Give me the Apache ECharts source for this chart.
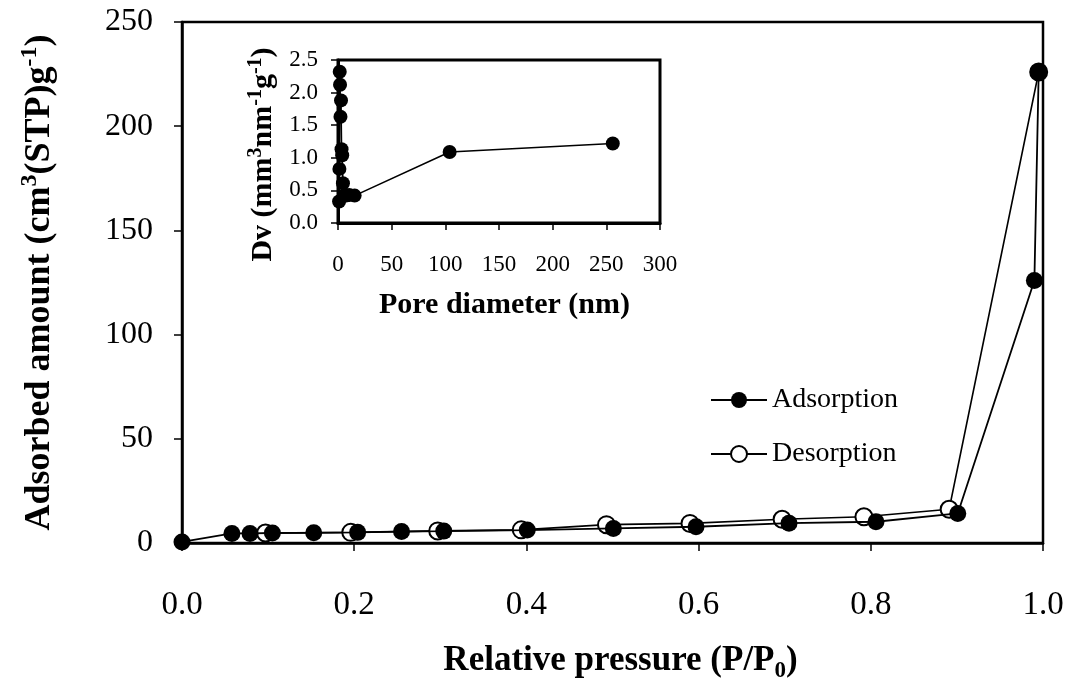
<!DOCTYPE html>
<html>
<head>
<meta charset="utf-8">
<script src="https://cdn.jsdelivr.net/npm/echarts@6/dist/echarts.min.js"></script>
<style>
html,body{margin:0;padding:0;background:#fff;}
#c{width:1069px;height:684px;}
</style>
</head>
<body>
<div id="c"></div>
<script>
// Main isotherm data (relative pressure P/P0, adsorbed amount)
const adsX = [0.0, 0.058, 0.079, 0.105, 0.153, 0.204, 0.255, 0.304, 0.401, 0.501, 0.597, 0.705, 0.806, 0.901, 0.990, 0.995];
const adsY = [0.5, 4.6, 4.6, 4.8, 4.9, 5.1, 5.5, 5.7, 6.2, 7.0, 7.8, 9.5, 10.2, 14.2, 126, 226];
const desX = [0.995, 0.891, 0.792, 0.697, 0.590, 0.493, 0.394, 0.297, 0.196, 0.097];
const desY = [226, 16.2, 12.6, 11.4, 9.4, 8.8, 6.3, 5.8, 5.1, 4.8];
// Inset: pore size distribution
const poreX = [1.0, 1.3, 1.6, 1.9, 2.3, 2.8, 3.3, 3.9, 4.6, 5.5, 7.5, 10.5, 15.5, 104, 256];
const poreY = [0.33, 0.83, 2.32, 2.12, 1.63, 1.88, 1.13, 1.04, 0.61, 0.42, 0.42, 0.43, 0.42, 1.09, 1.22];
// Tick labels
const mainXTicks = [0.0, 0.2, 0.4, 0.6, 0.8, 1.0];
const mainYTicks = [0, 50, 100, 150, 200, 250];
const insetXTicks = [0, 50, 100, 150, 200, 250, 300];
const insetYTicks = [0.0, 0.5, 1.0, 1.5, 2.0, 2.5];
const seriesNames = ['Adsorption', 'Desorption'];

const FONT = 'Liberation Serif';
const zip = (xs, ys) => xs.map((x, i) => [x, ys[i]]);
const span = t => ({min: t[0], max: t[t.length - 1], interval: t[1] - t[0]});

const chart = echarts.init(document.getElementById('c'), null, {renderer: 'canvas'});
const axisCommon = (lw, tickLen, fs, margin, fmt) => ({
  axisLine: {show: true, onZero: false, lineStyle: {color: '#000', width: lw}},
  axisTick: {show: true, inside: false, length: tickLen, lineStyle: {color: '#000', width: 1.5}},
  splitLine: {show: false},
  axisLabel: {color: '#000', fontFamily: FONT, fontSize: fs, margin: margin, formatter: fmt}
});
const fix1 = v => v.toFixed(1);
const plain = v => String(v);

const option = {
  backgroundColor: '#fff',
  animation: false,
  grid: [
    {left: 182, top: 22, width: 861, height: 521, show: true, borderColor: '#000', borderWidth: 2.5,
     backgroundColor: 'transparent', containLabel: false, outerBoundsMode: 'none'},
    {left: 338, top: 60, width: 322, height: 163, show: true, borderColor: '#000', borderWidth: 3,
     backgroundColor: '#fff', containLabel: false, outerBoundsMode: 'none'}
  ],
  legend: {
    orient: 'vertical',
    left: 705,
    top: 381,
    itemWidth: 56,
    itemHeight: 20,
    itemGap: 26,
    data: seriesNames,
    textStyle: {color: '#000', fontFamily: FONT, fontSize: 28}
  },
  xAxis: [
    Object.assign({
      type: 'value', gridIndex: 0, ...span(mainXTicks),
      name: 'Relative pressure (P/P{sub|0})',
      nameLocation: 'middle', nameGap: 96,
      nameTextStyle: {color: '#000', fontFamily: FONT, fontSize: 35, fontWeight: 'bold', lineHeight: 44, padding: [0, 0, 0, 16],
        rich: {sub: {fontFamily: FONT, fontSize: 23, fontWeight: 'bold', verticalAlign: 'bottom', lineHeight: 22}}}
    }, axisCommon(2.5, 8, 33, 46, fix1)),
    Object.assign({
      type: 'value', gridIndex: 1, ...span(insetXTicks),
      name: 'Pore diameter (nm)',
      nameLocation: 'middle', nameGap: 64,
      nameTextStyle: {color: '#000', fontFamily: FONT, fontSize: 30, fontWeight: 'bold', lineHeight: 36, padding: [0, 0, 0, 11]}
    }, axisCommon(3, 7, 23, 30, plain))
  ],
  yAxis: [
    Object.assign({
      type: 'value', gridIndex: 0, ...span(mainYTicks),
      name: 'Adsorbed amount (cm{sup|3}(STP)g{sup|-1})',
      nameLocation: 'middle', nameGap: 120, nameRotate: 90,
      nameTextStyle: {color: '#000', fontFamily: FONT, fontSize: 36, fontWeight: 'bold', lineHeight: 44,
        rich: {sup: {fontFamily: FONT, fontSize: 24, fontWeight: 'bold', verticalAlign: 'top', lineHeight: 22}}}
    }, axisCommon(2.5, 8, 32, 29, plain)),
    Object.assign({
      type: 'value', gridIndex: 1, ...span(insetYTicks),
      name: 'Dv (mm{sup|3}nm{sup|-1}g{sup|-1})',
      nameLocation: 'middle', nameGap: 58, nameRotate: 90,
      nameTextStyle: {color: '#000', fontFamily: FONT, fontSize: 30, fontWeight: 'bold', lineHeight: 34, padding: [0, 26, 0, 0],
        rich: {sup: {fontFamily: FONT, fontSize: 20, fontWeight: 'bold', verticalAlign: 'top', lineHeight: 16}}}
    }, axisCommon(3, 7, 23, 20, fix1))
  ],
  series: [
    {
      name: seriesNames[1], type: 'line', xAxisIndex: 0, yAxisIndex: 0,
      data: zip(desX, desY),
      symbol: 'emptyCircle', symbolSize: 17,
      itemStyle: {color: '#000', borderColor: '#000', borderWidth: 1.5},
      lineStyle: {color: '#000', width: 1.6},
      z: 2
    },
    {
      name: seriesNames[0], type: 'line', xAxisIndex: 0, yAxisIndex: 0,
      data: zip(adsX, adsY),
      symbol: 'circle', symbolSize: 17,
      itemStyle: {color: '#000'},
      lineStyle: {color: '#000', width: 1.8},
      z: 3
    },
    {
      name: 'PSD', type: 'line', xAxisIndex: 1, yAxisIndex: 1,
      data: zip(poreX, poreY),
      symbol: 'circle', symbolSize: 14,
      itemStyle: {color: '#000'},
      lineStyle: {color: '#000', width: 1.6},
      z: 10
    }
  ]
};
chart.setOption(option);
</script>
</body>
</html>
